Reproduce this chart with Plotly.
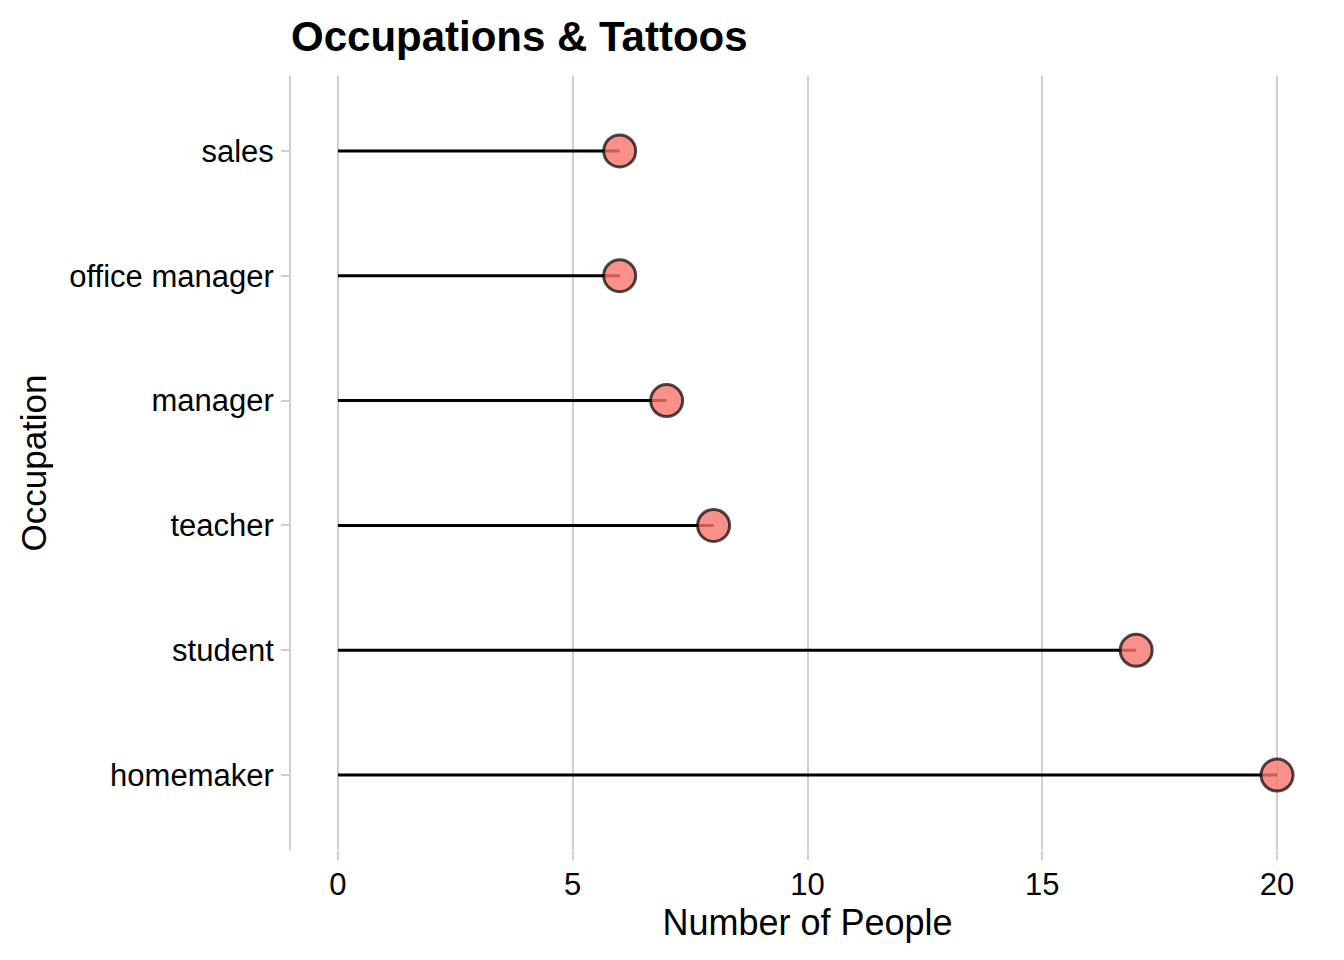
import plotly.graph_objects as go

occupations = ["homemaker", "student", "teacher", "manager", "office manager", "sales"]
counts = [20, 17, 8, 7, 6, 6]
x_ticks = [0, 5, 10, 15, 20]

seg_x, seg_y = [], []
for occ, c in zip(occupations, counts):
    seg_x += [0, c, None]
    seg_y += [occ, occ, None]

fig = go.Figure()
fig.add_trace(go.Scatter(x=seg_x, y=seg_y, mode="lines",
                         line=dict(color="black", width=3),
                         hoverinfo="skip", showlegend=False))
fig.add_trace(go.Scatter(x=counts, y=occupations, mode="markers",
                         marker=dict(size=32, color="rgba(248,118,109,0.8)",
                                     line=dict(color="rgba(0,0,0,0.7)", width=3)),
                         showlegend=False))

font = "Liberation Sans, Arial, Helvetica, sans-serif"
# the page body has an 8px margin, so offsets are compensated here
fig.update_layout(
    width=1344, height=960,
    margin=dict(l=283, r=28, t=68, b=118),
    plot_bgcolor="white", paper_bgcolor="white",
    font=dict(family=font, color="black"),
    title=dict(text="<b>Occupations & Tattoos</b>", x=283/1344, xref="container",
               xanchor="left", y=1-28/960, yref="container", yanchor="middle",
               font=dict(size=42, color="black", family=font)),
    xaxis=dict(range=[-1, 21], tickvals=x_ticks, ticktext=[str(t) for t in x_ticks],
               showgrid=True, gridcolor="#CFCFCF", gridwidth=2,
               zeroline=False, showline=False,
               ticks="outside", ticklen=9, tickwidth=2, tickcolor="#CFCFCF",
               ticklabelstandoff=-2,
               tickfont=dict(size=31, color="black"),
               title=dict(text="Number of People", font=dict(size=36, color="black"), standoff=6)),
    yaxis=dict(categoryorder="array", categoryarray=occupations, range=[-0.6, 5.6],
               showgrid=False, zeroline=False,
               showline=True, linecolor="#CFCFCF", linewidth=2,
               ticks="outside", ticklen=8, tickwidth=2, tickcolor="#CFCFCF",
               ticklabelstandoff=1,
               tickfont=dict(size=31, color="black"),
               title=dict(text="Occupation", font=dict(size=35, color="black"), standoff=12)),
)

fig.write_html("out.html")
